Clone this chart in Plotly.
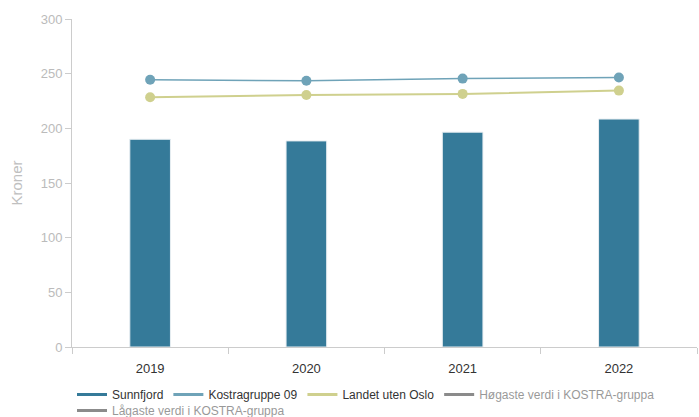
import plotly.graph_objects as go

years = ["2019", "2020", "2021", "2022"]
sunnfjord = [190, 188.5, 196.5, 208.5]
kostragruppe = [244.5, 243.5, 245.5, 246.5]
landet = [228.5, 230.5, 231.5, 234.5]
y_ticks = [0, 50, 100, 150, 200, 250, 300]

C_BAR = "#357a99"
C_KG = "#6fa3b8"
C_LAND = "#cfd08e"
C_GREY = "#1a1a1a"  # shown at half opacity as legend-only entries

FONT = "Liberation Sans, Arial, sans-serif"
W, H = 699, 417
L, R, T, B = 72, 2, 19, 0
PLOT_BOTTOM_PX = 347
paper_h = H - T - B
paper_w = W - L - R

fig = go.Figure()
fig.add_trace(go.Bar(x=years, y=sunnfjord, name="Sunnfjord", marker=dict(color=C_BAR, line=dict(color="#e8eef2", width=1)),
                     width=0.26, showlegend=False))
fig.add_trace(go.Scatter(x=years, y=kostragruppe, name="Kostragruppe 09", mode="lines+markers",
                         line=dict(color=C_KG, width=1.5), marker=dict(size=10, color=C_KG), showlegend=False))
fig.add_trace(go.Scatter(x=years, y=landet, name="Landet uten Oslo", mode="lines+markers",
                         line=dict(color=C_LAND, width=2), marker=dict(size=10, color=C_LAND), showlegend=False))
# legend entries
entries = [("Sunnfjord", C_BAR, True, "legend"), ("Kostragruppe 09", C_KG, True, "legend"),
           ("Landet uten Oslo", C_LAND, True, "legend"),
           ("Høgaste verdi i KOSTRA-gruppa", C_GREY, "legendonly", "legend"),
           ("Lågaste verdi i KOSTRA-gruppa", C_GREY, "legendonly", "legend2")]
for name, col, vis, lg in entries:
    fig.add_trace(go.Scatter(x=[None], y=[None], name=name, mode="lines", line=dict(color=col, width=3),
                             visible=vis, legend=lg))

leg_common = dict(orientation="h", x=0.0, xanchor="left", yanchor="top",
                  font=dict(family=FONT, size=12, color="#333333"), itemwidth=30, tracegroupgap=0,
                  bgcolor="rgba(0,0,0,0)")

fig.update_layout(
    width=W, height=H,
    margin=dict(l=L, r=R, t=T, b=B, autoexpand=False),
    paper_bgcolor="white", plot_bgcolor="white",
    font=dict(family=FONT, size=12, color="#333333"),
    showlegend=True,
    legend=dict(**leg_common, y=(H - B - 380) / paper_h),
    legend2=dict(**leg_common, y=(H - B - 396) / paper_h),
    xaxis=dict(type="category", showline=True, linecolor="#cccccc", linewidth=1,
               ticks="outside", tickson="boundaries", ticklen=6, tickcolor="#cccccc",
               ticklabelstandoff=9,
               tickfont=dict(family=FONT, size=13, color="#333333"), showgrid=False, zeroline=False),
    yaxis=dict(range=[0, 300], tickvals=y_ticks, showline=True, linecolor="#cccccc", linewidth=1,
               domain=[(H - B - PLOT_BOTTOM_PX) / paper_h, 1.0], automargin=False,
               ticks="outside", ticklen=6, tickcolor="#cccccc", showgrid=False, zeroline=False,
               tickfont=dict(family=FONT, size=13, color="#bbbbbb"),
               title=dict(text="Kroner", font=dict(family=FONT, size=15, color="#c0c0c0"), standoff=14)),
)
fig.write_html("out.html", config={"displayModeBar": False},
               post_script="document.body.style.margin='0';")
